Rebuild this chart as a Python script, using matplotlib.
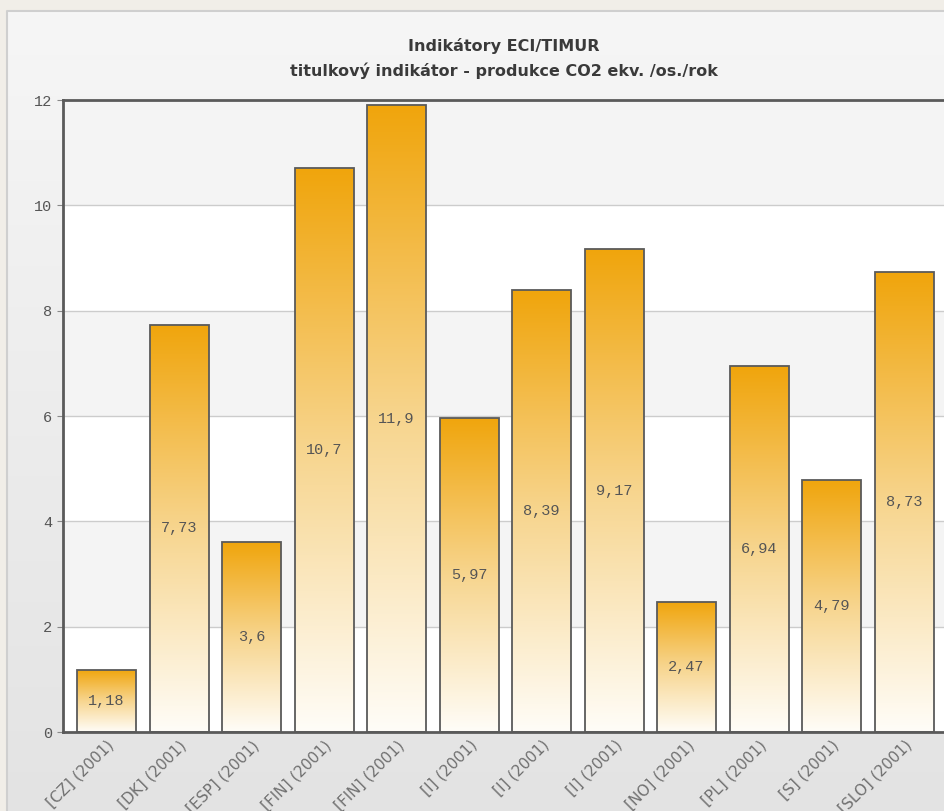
import numpy as np
import matplotlib
matplotlib.use("Agg")
import matplotlib.pyplot as plt
from matplotlib.colors import LinearSegmentedColormap

categories = ["[CZ] (2001)", "[DK] (2001)", "[ESP] (2001)", "[FIN] (2001)",
              "[FIN] (2001)", "[I] (2001)", "[I] (2001)", "[I] (2001)",
              "[NO] (2001)", "[PL] (2001)", "[S] (2001)", "[SLO] (2001)"]
values = [1.18, 7.73, 3.6, 10.7, 11.9, 5.97, 8.39, 9.17, 2.47, 6.94, 4.79, 8.73]
yticks = [0, 2, 4, 6, 8, 10, 12]
title1 = "Indikátory ECI/TIMUR"
title2 = "titulkový indikátor - produkce CO2 ekv. /os./rok"

W, H = 944, 811
fig = plt.figure(figsize=(W / 100, H / 100), dpi=100)
fig.patch.set_facecolor("#f1eee8")

# background panel with soft vertical gradient
bg = fig.add_axes([0, 0, 1, 1])
bg.set_xlim(0, W)
bg.set_ylim(H, 0)
bg.axis("off")
panel_cmap = LinearSegmentedColormap.from_list("panel", ["#f6f6f6", "#e3e3e3"])
bg.imshow(np.linspace(0, 1, 256).reshape(-1, 1), cmap=panel_cmap, aspect="auto",
          extent=(7, W + 5, H + 5, 11), zorder=0)
bg.plot([7, 7, W + 5], [H + 5, 11, 11], color="#cfcfcf", lw=1.5, zorder=1)

fig.text(504 / W, 1 - 46 / H, title1, ha="center", va="center",
         fontsize=11.5, fontweight="bold", color="#3a3a3a")
fig.text(504 / W, 1 - 71 / H, title2, ha="center", va="center",
         fontsize=11.5, fontweight="bold", color="#3a3a3a")

# plot area (extends past the right edge like the reference)
left_px, right_px, top_px, bot_px = 63, 965, 100, 732
ax = fig.add_axes([left_px / W, 1 - bot_px / H,
                   (right_px - left_px) / W, (bot_px - top_px) / H])
step = 72.5
c0 = 106.5
ax.set_xlim((left_px - c0) / step, (right_px - c0) / step)
ax.set_ylim(0, 12)
ax.set_facecolor("white")

# alternating bands
for lo in range(0, 12, 2):
    if (lo // 2) % 2 == 1:
        ax.axhspan(lo, lo + 2, color="#f4f4f4", zorder=0, lw=0)
for y in yticks[1:-1]:
    ax.axhline(y, color="#cccccc", lw=1, zorder=0.5)

bar_cmap = LinearSegmentedColormap.from_list("bar", ["#fffdf8", "#f7d58e", "#f0a50c"])
grad = np.linspace(0, 1, 256).reshape(-1, 1)
width = 59 / step
x = np.arange(len(values))
bars = ax.bar(x, values, width=width, facecolor="none", edgecolor="#5a5a5a",
              lw=1.3, zorder=3)
for b, v in zip(bars, values):
    x0 = b.get_x()
    im = ax.imshow(grad, cmap=bar_cmap, aspect="auto", origin="lower",
                   extent=(x0, x0 + b.get_width(), 0, v), zorder=2)
    im.set_clip_path(b)
    ax.text(b.get_x() + b.get_width() / 2, v / 2, str(v).replace(".", ","),
            ha="center", va="center", fontsize=11, family="Liberation Mono",
            color="#555555", zorder=4)

ax.set_yticks(yticks)
ax.set_yticklabels([str(t) for t in yticks], family="Liberation Mono",
                   fontsize=11, color="#555555")
ax.tick_params(axis="y", length=4, color="#888888", pad=4)
ax.set_xticks(x)
ax.set_xticklabels(categories, rotation=45, ha="right", va="top",
                   rotation_mode="anchor", fontsize=11, color="#707070")
ax.tick_params(axis="x", length=0, pad=4)

for s in ["left", "bottom", "top"]:
    ax.spines[s].set_color("#5a5a5a")
    ax.spines[s].set_linewidth(2)
ax.spines["right"].set_visible(False)

fig.savefig("out.png", dpi=100, facecolor=fig.get_facecolor())
